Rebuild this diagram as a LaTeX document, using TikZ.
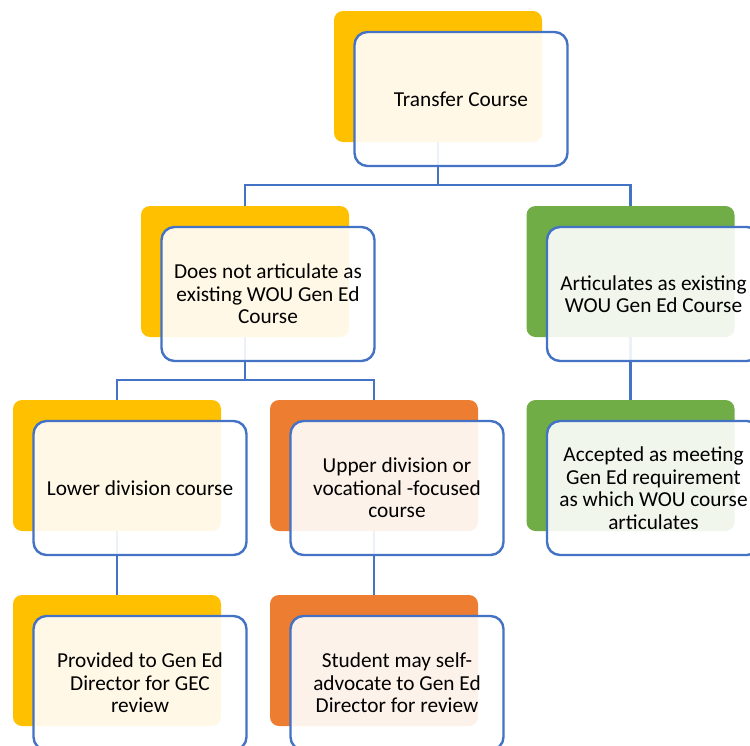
\documentclass[tikz,border=0pt]{standalone}
\usepackage{fontspec}
\setmainfont{Carlito}
\definecolor{cyel}{HTML}{FFC000}
\definecolor{corg}{HTML}{ED7D31}
\definecolor{cgrn}{HTML}{70AD47}
\definecolor{cblu}{HTML}{4472C4}
\begin{document}
\begin{tikzpicture}[x=1pt,y=-1pt,
  backbox/.style={rectangle, rounded corners=9pt, minimum width=208pt, minimum height=131pt, inner sep=0pt, fill=#1},
  frontbox/.style={rectangle, rounded corners=13pt, minimum width=213pt, minimum height=134pt, inner sep=0pt,
    draw=cblu, line width=2.4pt, fill=white, fill opacity=0.9, text opacity=1, align=center,
    font=\fontsize{21.3}{22.5}\selectfont, text=black},
  conn/.style={draw=cblu, line width=2.4pt}]
\useasboundingbox (0,0) rectangle (750,745);
\clip (0,0) rectangle (750,745);
% back rectangles
\node[backbox=cyel] (b1) at (438,76.5) {};
\node[backbox=cyel] (b2) at (245,271.5) {};
\node[backbox=cgrn] (b3) at (630.5,271.5) {};
\node[backbox=cyel] (b4) at (117,465.5) {};
\node[backbox=corg] (b5) at (374,465.5) {};
\node[backbox=cgrn] (b6) at (630.5,465.5) {};
\node[backbox=cyel] (b7) at (117,660.5) {};
\node[backbox=corg] (b8) at (374,660.5) {};
% connectors
\coordinate (j1) at (438,185);
\coordinate (j2) at (245,380);
\draw[conn] (b1.south) -- (j1);
\draw[conn] (j1) -| (b2.north);
\draw[conn] (j1) -| (b3.north);
\draw[conn] (b2.south) -- (j2);
\draw[conn] (j2) -| (b4.north);
\draw[conn] (j2) -| (b5.north);
\draw[conn] (b3.south) -- (b6.north);
\draw[conn] (b4.south) -- (b7.north);
\draw[conn] (b5.south) -- (b8.north);
% front boxes
\node[frontbox] (f1) at (461,99) {Transfer Course};
\node[frontbox] (f2) at (268,294) {Does not articulate as\\existing WOU Gen Ed\\Course};
\node[frontbox] (f3) at (653.5,294) {Articulates as existing\\WOU Gen Ed Course};
\node[frontbox] (f4) at (140,488) {Lower division course};
\node[frontbox] (f5) at (397,488) {Upper division or\\vocational -focused\\course};
\node[frontbox] (f6) at (653.5,488) {Accepted as meeting\\Gen Ed requirement\\as which WOU course\\articulates};
\node[frontbox] (f7) at (140,683) {Provided to Gen Ed\\Director for GEC\\review};
\node[frontbox] (f8) at (397,683) {Student may self-\\advocate to Gen Ed\\Director for review};
\end{tikzpicture}
\end{document}
